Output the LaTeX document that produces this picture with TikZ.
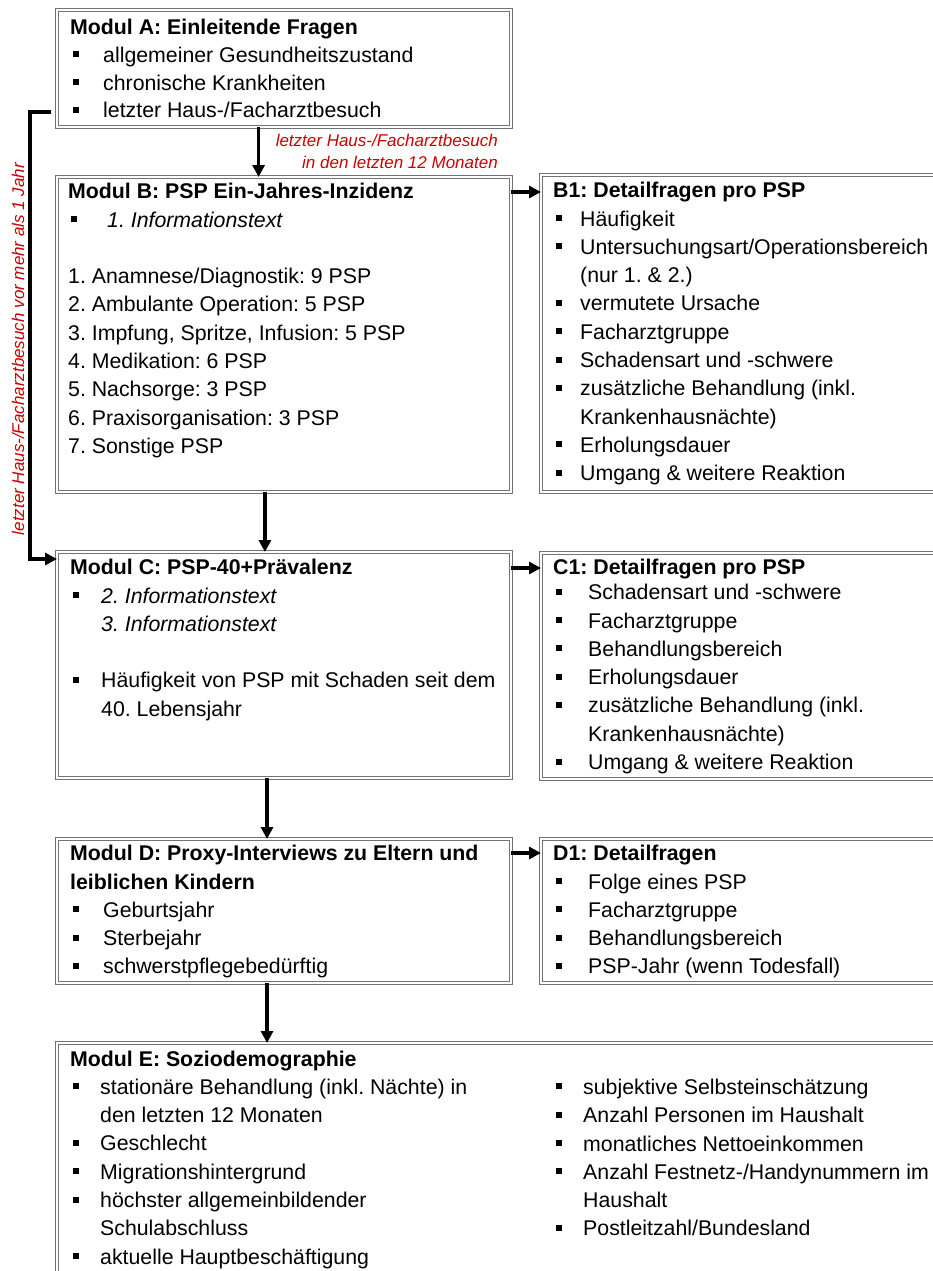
\documentclass[tikz,border=0pt]{standalone}
\usepackage{fontspec}
\setmainfont{Liberation Sans}
\usetikzlibrary{arrows.meta,calc}
\definecolor{myred}{RGB}{204,0,0}
\frenchspacing
\newcommand{\sq}{\raisebox{5pt}{\rule{6pt}{6pt}}}
\newcommand{\itm}[2][33pt]{\strut\makebox[#1][l]{\hspace{3pt}\sq}#2}
\newcommand{\cnt}[2][33pt]{\strut\hspace*{#1}#2}
\newcommand{\ttl}[1]{\strut\textbf{#1}}
\begin{document}
\begin{tikzpicture}[x=1pt,y=-1pt,
  box/.style={draw=black!55, line width=0.9pt, double=white, double distance=1.4pt, inner sep=0pt, outer sep=0pt, anchor=north west},
  txt/.style={inner sep=0pt, anchor=north west, align=left, font=\fontsize{21.3}{28.3}\selectfont\frenchspacing},
  rtxt/.style={text=myred, font=\fontsize{17}{22}\selectfont\itshape\frenchspacing, inner sep=0pt},
  arr/.style={line width=3.5pt, -{Triangle[length=12pt,width=12pt]}}]
\useasboundingbox (0,0) rectangle (933,1271);
\clip (0,0) rectangle (933,1271);

% boxes
\node[box, minimum width=454pt, minimum height=117pt] (A) at (57,10) {};
\node[box, minimum width=454pt, minimum height=315pt] (B) at (57,177) {};
\node[box, minimum width=420pt, minimum height=317pt] (B1) at (541,175) {};
\node[box, minimum width=454pt, minimum height=226pt] (C) at (57,552) {};
\node[box, minimum width=420pt, minimum height=226pt] (C1) at (541,553) {};
\node[box, minimum width=454pt, minimum height=144pt] (D) at (57,839) {};
\node[box, minimum width=420pt, minimum height=144pt] (D1) at (541,839) {};
\node[box, minimum width=900pt, minimum height=260pt] (E) at (57,1043) {};

% texts
\node[txt, font=\fontsize{21.3}{27.7}\selectfont\frenchspacing] (At) at (70,15.1) {%
\ttl{Modul A: Einleitende Fragen}\\
\itm{allgemeiner Gesundheitszustand}\\
\itm{chronische Krankheiten}\\
\itm{letzter Haus-/Facharztbesuch}};

\node[txt] (Bt) at (68,178.7) {%
\ttl{Modul B: PSP Ein-Jahres-Inzidenz}\\
\itm[39pt]{\textit{1. Informationstext}}\\
\strut\\
\strut 1. Anamnese/Diagnostik: 9 PSP\\
\strut 2. Ambulante Operation: 5 PSP\\
\strut 3. Impfung, Spritze, Infusion: 5 PSP\\
\strut 4. Medikation: 6 PSP\\
\strut 5. Nachsorge: 3 PSP\\
\strut 6. Praxisorganisation: 3 PSP\\
\strut 7. Sonstige PSP};

\node[txt] (B1t) at (553,177.7) {%
\ttl{B1: Detailfragen pro PSP}\\
\itm[27pt]{Häufigkeit}\\
\itm[27pt]{Untersuchungsart/Operationsbereich}\\
\cnt[27pt]{(nur 1. \& 2.)}\\
\itm[27pt]{vermutete Ursache}\\
\itm[27pt]{Facharztgruppe}\\
\itm[27pt]{Schadensart und -schwere}\\
\itm[27pt]{zusätzliche Behandlung (inkl.}\\
\cnt[27pt]{Krankenhausnächte)}\\
\itm[27pt]{Erholungsdauer}\\
\itm[27pt]{Umgang \& weitere Reaktion}};

\node[txt] (Ct) at (70,554.7) {%
\ttl{Modul C: PSP-40+Prävalenz}\\
\itm[31pt]{\textit{2. Informationstext}}\\
\cnt[31pt]{\textit{3. Informationstext}}\\
\strut\\
\itm[31pt]{Häufigkeit von PSP mit Schaden seit dem}\\
\cnt[31pt]{40. Lebensjahr}};

\node[txt] (C1t) at (553,554.4) {%
\ttl{C1: Detailfragen pro PSP}\\[-3pt]
\itm[35pt]{Schadensart und -schwere}\\
\itm[35pt]{Facharztgruppe}\\
\itm[35pt]{Behandlungsbereich}\\
\itm[35pt]{Erholungsdauer}\\
\itm[35pt]{zusätzliche Behandlung (inkl.}\\
\cnt[35pt]{Krankenhausnächte)}\\
\itm[35pt]{Umgang \& weitere Reaktion}};

\node[txt] (Dt) at (70,840.7) {%
\ttl{Modul D: Proxy-Interviews zu Eltern und}\\
\ttl{leiblichen Kindern}\\
\itm{Geburtsjahr}\\
\itm{Sterbejahr}\\
\itm{schwerstpflegebedürftig}};

\node[txt] (D1t) at (553,840.7) {%
\ttl{D1: Detailfragen}\\
\itm[35pt]{Folge eines PSP}\\
\itm[35pt]{Facharztgruppe}\\
\itm[35pt]{Behandlungsbereich}\\
\itm[35pt]{PSP-Jahr (wenn Todesfall)}};

\node[txt] (Et) at (70,1046) {%
\ttl{Modul E: Soziodemographie}\\
\itm[30pt]{stationäre Behandlung (inkl. Nächte) in}\\
\cnt[30pt]{den letzten 12 Monaten}\\
\itm[30pt]{Geschlecht}\\
\itm[30pt]{Migrationshintergrund}\\
\itm[30pt]{höchster allgemeinbildender}\\
\cnt[30pt]{Schulabschluss}\\
\itm[30pt]{aktuelle Hauptbeschäftigung}};

\node[txt] (Er) at (553,1074.4) {%
\itm[30pt]{subjektive Selbsteinschätzung}\\
\itm[30pt]{Anzahl Personen im Haushalt}\\
\itm[30pt]{monatliches Nettoeinkommen}\\
\itm[30pt]{Anzahl Festnetz-/Handynummern im}\\
\cnt[30pt]{Haushalt}\\
\itm[30pt]{Postleitzahl/Bundesland}};

% red labels
\node[rtxt, align=right, anchor=north east] (labAB) at (498,130.6) {\strut letzter Haus-/Facharztbesuch\\\strut in den letzten 12 Monaten};
\node[rtxt, rotate=90] (labAC) at (18,349) {letzter Haus-/Facharztbesuch vor mehr als 1 Jahr};

% connectors
\draw[arr] ($(A.south west)!0.444!(A.south east)$) coordinate (ab) -- (ab |- B.north);
\draw[arr] ($(B.south west)!0.458!(B.south east)$) coordinate (bc) -- (bc |- C.north);
\draw[arr] ($(C.south west)!0.4626!(C.south east)$) coordinate (cd) -- (cd |- D.north);
\draw[arr] ($(D.south west)!0.4626!(D.south east)$) coordinate (de) -- (de |- E.north);
\draw[arr] ($(B.north east)+(0,15)$) coordinate (bb) -- (bb -| B1.west);
\draw[arr] ($(C.north east)+(0,16)$) coordinate (cc) -- (cc -| C1.west);
\draw[arr] ($(D.north east)+(0,14)$) coordinate (dd) -- (dd -| D1.west);
\draw[arr] ($(A.south west)+(-6,-15)$) coordinate (aa) -- ($(A.south west)+(-27,-15)$) |- ($(C.north west)+(0,7)$);
\end{tikzpicture}
\end{document}
